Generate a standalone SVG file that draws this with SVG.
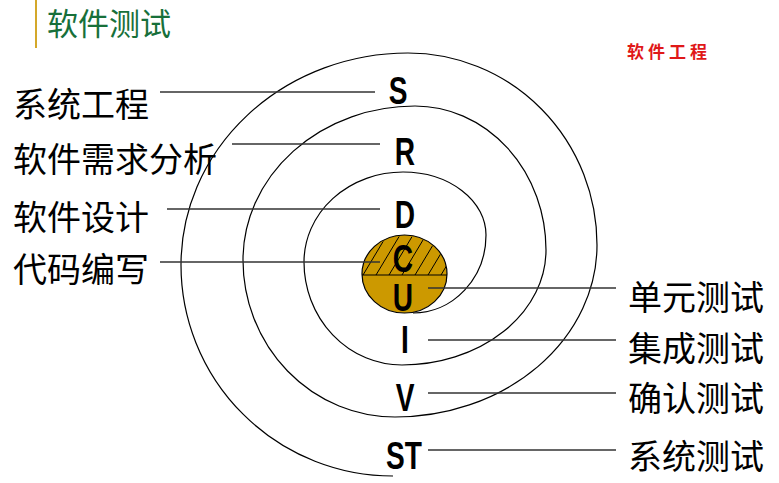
<svg xmlns="http://www.w3.org/2000/svg" width="779" height="483" viewBox="0 0 779 483">
<defs>
<style>
.cn{font-family:"Noto Sans CJK SC","Noto Sans",sans-serif;font-size:34px;fill:#000}
.lt{font-family:"Liberation Sans",Arial,sans-serif;font-weight:bold;font-size:38px;fill:#000;text-anchor:middle}
.ln{stroke:#333;stroke-width:1.5;fill:none}
.arc{stroke:#000;stroke-width:1.2;fill:none}
</style>
<clipPath id="upper"><path d="M362,275 A42.5,39 0 0 1 447,275 Z"/></clipPath>
</defs>
<rect width="779" height="483" fill="#fff"/>
<g id="header">
<line x1="36" y1="0" x2="36" y2="48" stroke="#d4a82a" stroke-width="2"/>
<text x="47" y="35" font-family="Noto Sans CJK SC,sans-serif" font-size="31" fill="#17703a">软件测试</text>
<text x="627" y="58" font-family="Noto Sans CJK SC,sans-serif" font-weight="bold" font-size="17" letter-spacing="4" fill="#e01818">软件工程</text>
</g>
<g id="spiral">
<path class="arc" d="M413,313 A73,78 0 0 0 486,235 A83,63 0 0 0 403,172 A99,90 0 0 0 304,262 A98,103 0 0 0 402,365 A144,115 0 0 0 546,250 A131,144 0 0 0 415,106 A172,154 0 0 0 243,260 A152,157 0 0 0 395,417 A202,172 0 0 0 597,245 A189,192 0 0 0 408,53 A227,212 0 0 0 181,265 A212,211 0 0 0 393,476"/>
</g>
<g id="core">
<ellipse cx="404.5" cy="274" rx="42.5" ry="39" fill="#cc9900" stroke="#000" stroke-width="1.2"/>
<g clip-path="url(#upper)" stroke="#000" stroke-width="1">
<line x1="350" y1="275" x2="374" y2="235"/>
<line x1="363" y1="275" x2="387" y2="235"/>
<line x1="376" y1="275" x2="400" y2="235"/>
<line x1="389" y1="275" x2="413" y2="235"/>
<line x1="402" y1="275" x2="426" y2="235"/>
<line x1="415" y1="275" x2="439" y2="235"/>
<line x1="428" y1="275" x2="452" y2="235"/>
<line x1="441" y1="275" x2="465" y2="235"/>
</g>
<line x1="362" y1="275" x2="447" y2="275" stroke="#000" stroke-width="1.2"/>
</g>
<g id="letters">
<text class="lt" transform="translate(398,104) scale(0.74,1)">S</text>
<text class="lt" transform="translate(405,165) scale(0.74,1)">R</text>
<text class="lt" transform="translate(405,228) scale(0.74,1)">D</text>
<text class="lt" transform="translate(403,272) scale(0.74,1)">C</text>
<text class="lt" transform="translate(403,311) scale(0.74,1)">U</text>
<text class="lt" transform="translate(405,353) scale(0.74,1)">I</text>
<text class="lt" transform="translate(405,411) scale(0.74,1)">V</text>
<text class="lt" transform="translate(404,469) scale(0.74,1)">ST</text>
</g>
<g id="connectors">
<line class="ln" x1="160" y1="92" x2="375" y2="92"/>
<line class="ln" x1="232" y1="144" x2="380" y2="144"/>
<line class="ln" x1="167" y1="209" x2="380" y2="209"/>
<line class="ln" x1="160" y1="262" x2="380" y2="262"/>
<line class="ln" x1="428" y1="288" x2="616" y2="288"/>
<line class="ln" x1="428" y1="340" x2="616" y2="340"/>
<line class="ln" x1="428" y1="393" x2="616" y2="393"/>
<line class="ln" x1="428" y1="450" x2="616" y2="450"/>
</g>
<g id="labels">
<g id="n-sys"><text class="cn" x="13" y="117">系统工程</text></g>
<g id="n-req"><text class="cn" x="13" y="172">软件需求分析</text></g>
<g id="n-des"><text class="cn" x="13" y="230">软件设计</text></g>
<g id="n-code"><text class="cn" x="13" y="282">代码编写</text></g>
<g id="n-unit"><text class="cn" x="628" y="310">单元测试</text></g>
<g id="n-int"><text class="cn" x="628" y="361">集成测试</text></g>
<g id="n-val"><text class="cn" x="628" y="411">确认测试</text></g>
<g id="n-systest"><text class="cn" x="628" y="469">系统测试</text></g>
</g>
</svg>
